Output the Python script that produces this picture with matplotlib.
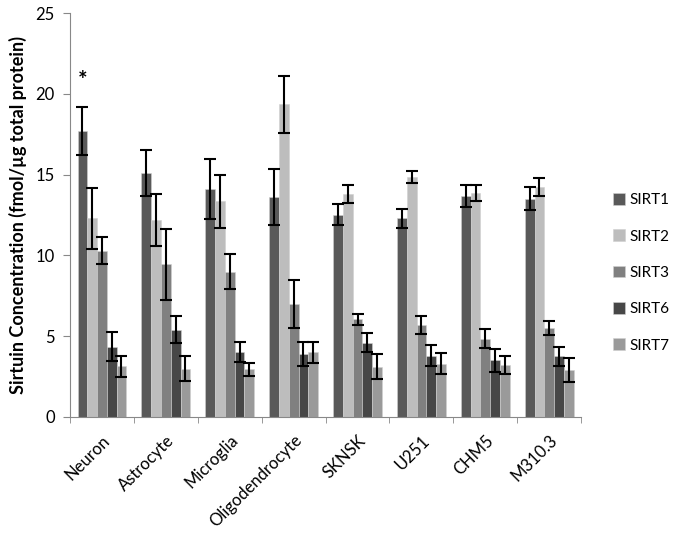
import matplotlib.pyplot as plt
import numpy as np

plt.rcParams['font.family'] = ['Lato', 'DejaVu Sans']

# Data
cells = ['Neuron', 'Astrocyte', 'Microglia', 'Oligodendrocyte', 'SKNSK', 'U251', 'CHM5', 'M310.3']
series = ['SIRT1', 'SIRT2', 'SIRT3', 'SIRT6', 'SIRT7']

sirt1 = [17.7, 15.1, 14.1, 13.6, 12.5, 12.3, 13.7, 13.5]
sirt2 = [12.3, 12.2, 13.35, 19.35, 13.8, 14.85, 13.85, 14.25]
sirt3 = [10.3, 9.45, 9.0, 7.0, 6.05, 5.7, 4.85, 5.5]
sirt6 = [4.35, 5.4, 4.0, 3.9, 4.6, 3.8, 3.5, 3.75]
sirt7 = [3.15, 3.0, 2.95, 4.0, 3.1, 3.3, 3.2, 2.9]

err1 = [1.5, 1.45, 1.85, 1.75, 0.65, 0.6, 0.68, 0.72]
err2 = [1.9, 1.6, 1.65, 1.75, 0.56, 0.4, 0.5, 0.55]
err3 = [0.85, 2.2, 1.1, 1.5, 0.35, 0.55, 0.6, 0.45]
err6 = [0.9, 0.83, 0.62, 0.74, 0.57, 0.64, 0.72, 0.6]
err7 = [0.65, 0.8, 0.42, 0.66, 0.78, 0.64, 0.57, 0.72]

values = [sirt1, sirt2, sirt3, sirt6, sirt7]
errors = [err1, err2, err3, err6, err7]
colors = ['#595959', '#bdbdbd', '#808080', '#474747', '#9a9a9a']

fig = plt.figure(figsize=(6.75, 5.35), dpi=100)
ax = fig.add_axes([0.1037, 0.2206, 0.7573, 0.7551])

x = np.arange(len(cells))
width = 0.153
for i, (vals, errs, c) in enumerate(zip(values, errors, colors)):
    pos = x + (i - 2) * width
    ax.bar(pos, vals, width=width, color=c, edgecolor='#d0d0d0', linewidth=0.4,
           label=series[i], zorder=2)
    ax.errorbar(pos, vals, yerr=errs, fmt='none', ecolor='black',
                elinewidth=1.5, capsize=4, capthick=1.5, zorder=3)

# significance marker above Neuron SIRT1
ax.text(x[0] - 2 * width, 20.8, '*', ha='center', va='center',
        fontsize=16, fontweight='bold')

ax.set_xlim(-0.5, len(cells) - 0.5)
ax.set_ylim(0, 25)
ax.set_yticks(np.arange(0, 26, 5))
ax.set_xticks(x)
ax.set_xticklabels(cells, rotation=45, ha='right', rotation_mode='anchor',
                   fontsize=12)
ax.set_xticks(np.arange(-0.5, len(cells)), minor=True)
ax.tick_params(axis='x', which='major', length=0, pad=11)
ax.tick_params(axis='x', which='minor', length=4, color='#888888')
ax.tick_params(axis='y', length=5, color='#888888', labelsize=12, pad=6)

for s in ['top', 'right']:
    ax.spines[s].set_visible(False)
for s in ['left', 'bottom']:
    ax.spines[s].set_color('#888888')

ax.set_ylabel('Sirtuin Concentration (fmol/\u00b5g total protein)',
              fontsize=13, fontweight='bold', labelpad=6)

leg = ax.legend(loc='center left', bbox_to_anchor=(0.888, 0.49),
                bbox_transform=fig.transFigure, frameon=False,
                fontsize=11, labelspacing=1.45, handlelength=0.8,
                handleheight=0.8, handletextpad=0.3)

plt.savefig('out.png', dpi=100)
